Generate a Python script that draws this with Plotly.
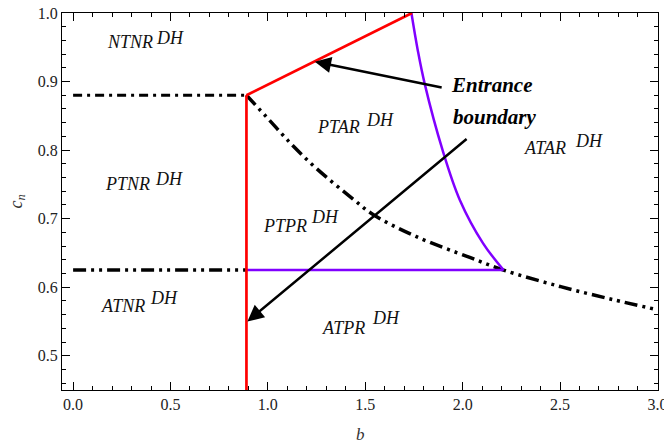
import plotly.graph_objects as go

# ---- data -------------------------------------------------------------
# vertical red boundary and slanted red boundary (entrance boundary)
red_vert_b = [0.89, 0.89]
red_vert_c = [0.45, 0.88]
red_slant_b = [0.89, 1.74]
red_slant_c = [0.88, 1.00]

# purple boundary: curved part and horizontal part
purple_curve_b = [1.737, 1.77, 1.805, 1.897, 1.986, 2.105, 2.21]
purple_curve_c = [1.000, 0.945, 0.897, 0.800, 0.727, 0.664, 0.625]
purple_flat_b = [0.89, 2.21]
purple_flat_c = [0.625, 0.625]

# dash-dot thresholds
upper_flat_b = [0.0, 0.89]
upper_flat_c = [0.88, 0.88]
lower_flat_b = [0.0, 0.89]
lower_flat_c = [0.625, 0.625]
curve_b = [0.89, 1.01, 1.08, 1.13, 1.25, 1.44, 1.54, 1.76, 2.04, 2.21, 2.5, 2.77, 3.0]
curve_c = [0.880, 0.843, 0.821, 0.806, 0.773, 0.728, 0.706, 0.674, 0.643, 0.625, 0.601, 0.582, 0.567]

# region labels (main name + superscript)
region_names = ["NTNR", "PTNR", "ATNR", "PTAR", "PTPR", "ATPR", "ATAR"]
region_b = [0.291, 0.278, 0.257, 1.362, 1.087, 1.387, 2.425]
region_c = [0.957, 0.750, 0.573, 0.834, 0.689, 0.541, 0.803]
sup_text = "DH"
sup_b = [0.495, 0.491, 0.468, 1.577, 1.292, 1.606, 2.648]
sup_c = [0.963, 0.758, 0.584, 0.8435, 0.702, 0.555, 0.813]

# arrows: (tail_b, tail_c) -> (head_b, head_c)
arrow_tail_b = [1.900, 2.028]
arrow_tail_c = [0.891, 0.818]
arrow_head_b = [1.241, 0.895]
arrow_head_c = [0.929, 0.550]

x_ticks = [0.0, 0.5, 1.0, 1.5, 2.0, 2.5, 3.0]
y_ticks = [0.5, 0.6, 0.7, 0.8, 0.9, 1.0]

SERIF = "Liberation Serif, Times New Roman, serif"
RED = "#ff0000"
PURPLE = "#8000ff"
DASHDOT = "9px,5px,3px,5px"
DASHDOTDOT = "13px,5px,3px,5px,3px,5px"

fig = go.Figure()


def add_line(b, c, color, width, dash="solid", shape="linear"):
    fig.add_trace(go.Scatter(
        x=b, y=c, mode="lines",
        line=dict(color=color, width=width, dash=dash, shape=shape),
        hoverinfo="skip", showlegend=False,
    ))


add_line(upper_flat_b, upper_flat_c, "black", 3.2, DASHDOT)
add_line(lower_flat_b, lower_flat_c, "black", 3.5, DASHDOTDOT)
add_line(curve_b, curve_c, "black", 3.5, DASHDOTDOT, "spline")
add_line(purple_flat_b, purple_flat_c, PURPLE, 2.5)
add_line(purple_curve_b, purple_curve_c, PURPLE, 2.5, shape="spline")
add_line(red_vert_b, red_vert_c, RED, 2.7)
add_line(red_slant_b, red_slant_c, RED, 2.7)

annotations = []
for name, b, c in zip(region_names, region_b, region_c):
    annotations.append(dict(
        x=b, y=c, xref="x", yref="y", text=f"<i>{name}</i>", showarrow=False,
        xanchor="center", yanchor="middle",
        font=dict(family=SERIF, size=18, color="#111"),
    ))
for b, c in zip(sup_b, sup_c):
    annotations.append(dict(
        x=b, y=c, xref="x", yref="y", text=f"<i>{sup_text}</i>", showarrow=False,
        xanchor="center", yanchor="middle",
        font=dict(family=SERIF, size=18, color="#111"),
    ))

annotations.append(dict(
    x=2.153, y=0.8945, xref="x", yref="y", text="<b><i>Entrance</i></b>",
    showarrow=False, xanchor="center", yanchor="middle",
    font=dict(family=SERIF, size=21, color="black"),
))
annotations.append(dict(
    x=2.165, y=0.8485, xref="x", yref="y", text="<b><i>boundary</i></b>",
    showarrow=False, xanchor="center", yanchor="middle",
    font=dict(family=SERIF, size=21, color="black"),
))

for tb, tc, hb, hc in zip(arrow_tail_b, arrow_tail_c, arrow_head_b, arrow_head_c):
    annotations.append(dict(
        x=hb, y=hc, ax=tb, ay=tc, xref="x", yref="y", axref="x", ayref="y",
        text="", showarrow=True, arrowhead=2, arrowsize=1.3, arrowwidth=2.5,
        arrowcolor="black", standoff=0,
    ))

# axis titles
annotations.append(dict(
    x=0.5, y=0, xref="paper", yref="paper", yshift=-44, text="<i>b</i>",
    showarrow=False, xanchor="center", yanchor="middle",
    font=dict(family=SERIF, size=17, color="#333"),
))
annotations.append(dict(
    x=0, y=0.5, xref="paper", yref="paper", xshift=-45,
    text="<i>c</i><sub><i>n</i></sub>", textangle=-90,
    showarrow=False, xanchor="center", yanchor="middle",
    font=dict(family=SERIF, size=18, color="#333"),
))

axis_common = dict(
    showgrid=False, zeroline=False, showline=True, linecolor="black",
    linewidth=1.2, mirror="allticks", ticks="inside", tickcolor="black",
    tickwidth=1, tickfont=dict(family=SERIF, size=16, color="#222"),
    tickformat=".1f", ticklabeloverflow="allow", automargin=False,
)

fig.update_layout(
    width=664, height=446,
    margin=dict(l=62, r=6, t=13, b=56),
    paper_bgcolor="white", plot_bgcolor="white",
    showlegend=False,
    xaxis=dict(
        range=[-0.057, 3.003], tickvals=x_ticks, ticklen=8,
        minor=dict(dtick=0.1, tick0=0.0, ticklen=4, ticks="inside", tickcolor="black"),
        **axis_common,
    ),
    yaxis=dict(
        range=[0.45, 1.0], tickvals=y_ticks, ticklen=8,
        minor=dict(dtick=0.02, tick0=0.0, ticklen=4, ticks="inside", tickcolor="black"),
        **axis_common,
    ),
    annotations=annotations,
)

fig.write_html("out.html")
